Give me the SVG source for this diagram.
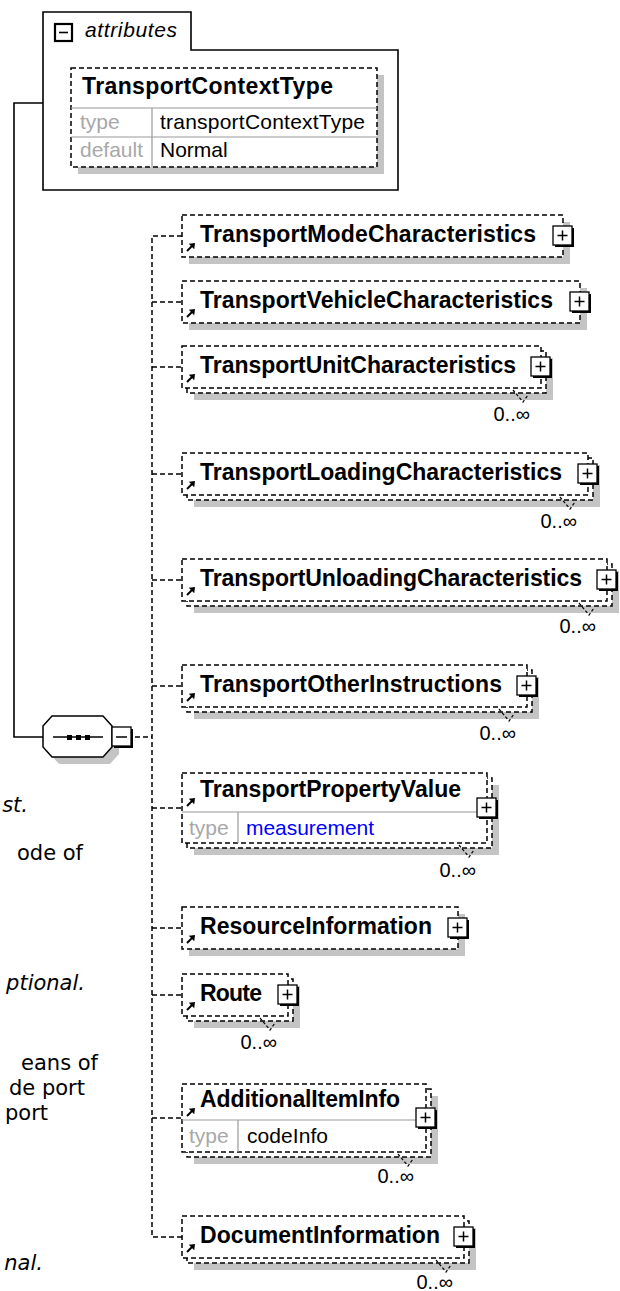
<svg xmlns="http://www.w3.org/2000/svg" width="620" height="1291" viewBox="0 0 620 1291">
<style>
.sol{fill:none;stroke:#000;stroke-width:1.6}
.dash{fill:none;stroke:#000;stroke-width:1.5;stroke-dasharray:5,3}
.box{fill:#fff;stroke:#000;stroke-width:1.5;stroke-dasharray:5,3}
.shd{fill:#c4c4c4}
.sep{fill:none;stroke:#999;stroke-width:1.2}
.name{font-family:"Liberation Sans",Arial,sans-serif;font-weight:bold;font-size:23px;fill:#000}
.reg{font-family:"Liberation Sans",Arial,sans-serif;font-size:21px;fill:#000}
.lbl{fill:#a8a8a8}
.blue{fill:#0000ff}
.occ{font-family:"Liberation Sans",Arial,sans-serif;font-size:20px;fill:#000;text-anchor:end}
.doc{font-family:"DejaVu Sans",Verdana,sans-serif;font-size:21px;fill:#000;text-anchor:end}
.it{font-style:italic}
.tick{fill:none;stroke:#000;stroke-width:1.2;stroke-dasharray:3,2}
</style>
<defs>
<g id="arr"><path d="M0,8 L5,3" stroke="#000" stroke-width="2" fill="none"/><polygon points="8,0 1.8,0.8 7.2,6.2" fill="#000"/></g>
<g id="plus"><rect x="2" y="2" width="19" height="19" fill="#000"/><rect x="0" y="0" width="19" height="19" fill="#fff" stroke="#000" stroke-width="1.3"/><path d="M4.5,9.5 H14.5 M9.5,4.5 V14.5" stroke="#000" stroke-width="1.5"/></g>
</defs>

<g id="connectors">
<path class="sol" d="M43,103 H14 V737 H43"/>
<path class="dash" d="M135,737 H152"/>
<path class="dash" d="M182,236 H152 V1237 H182"/>
<path class="dash" d="M152,302 H182 M152,367 H182 M152,474 H182 M152,580 H182 M152,686 H182 M152,808 H182 M152,928 H182 M152,995 H182 M152,1118 H182"/>
</g>

<g id="attributes">
<path d="M43,190 V12 H191 V50 H398 V190 Z" fill="#fff" stroke="#000" stroke-width="1.6"/>
<rect x="55" y="24" width="17" height="17" fill="#fff" stroke="#000" stroke-width="2.2"/>
<path d="M59,32.5 H68" stroke="#000" stroke-width="1.6"/>
<text class="reg it" x="85" y="37" textLength="92">attributes</text>
<rect class="shd" x="78" y="75" width="306" height="99"/>
<rect class="box" x="71" y="68" width="306" height="99"/>
<path class="sep" d="M71,108 H377 M71,137 H377 M152,108 V167"/>
<text class="name" x="82" y="94" textLength="251">TransportContextType</text>
<text class="reg lbl" x="80" y="129">type</text>
<text class="reg" x="160" y="129" textLength="205">transportContextType</text>
<text class="reg lbl" x="80" y="157">default</text>
<text class="reg" x="160" y="157">Normal</text>
</g>

<g id="sequence">
<polygon points="50,733 59,723 110,723 119,733 119,754 110,764 59,764 50,754" class="shd"/>
<polygon points="43,726 52,716 103,716 112,726 112,747 103,757 52,757 43,747" fill="#fff" stroke="#000" stroke-width="1.5"/>
<path d="M53,737 H103" stroke="#000" stroke-width="1.5"/>
<rect x="67" y="735" width="5" height="5" fill="#000"/>
<rect x="76" y="735" width="5" height="5" fill="#000"/>
<rect x="85" y="735" width="5" height="5" fill="#000"/>
<rect x="114" y="729" width="19" height="19" fill="#000"/>
<rect x="112" y="727" width="19" height="19" fill="#fff" stroke="#000" stroke-width="1.3"/>
<path d="M116,737 H127" stroke="#000" stroke-width="1.5"/>
</g>

<g id="TransportModeCharacteristics">
<rect class="shd" x="189" y="222" width="381" height="42"/>
<rect class="box" x="182" y="215" width="381" height="42"/>
<use href="#arr" x="187" y="243"/>
<text class="name" x="200" y="242" textLength="336">TransportModeCharacteristics</text>
<use href="#plus" x="553" y="226"/>
</g>

<g id="TransportVehicleCharacteristics">
<rect class="shd" x="189" y="288" width="398" height="42"/>
<rect class="box" x="182" y="281" width="398" height="42"/>
<use href="#arr" x="187" y="309"/>
<text class="name" x="200" y="308" textLength="353">TransportVehicleCharacteristics</text>
<use href="#plus" x="570" y="292"/>
</g>

<g id="TransportUnitCharacteristics">
<rect class="shd" x="194" y="358" width="359" height="42"/>
<rect class="box" x="187" y="351" width="359" height="42"/>
<rect class="box" x="182" y="346" width="359" height="42"/>
<use href="#arr" x="187" y="374"/>
<text class="name" x="200" y="373" textLength="316">TransportUnitCharacteristics</text>
<use href="#plus" x="531" y="357"/>
<polyline class="tick" points="513,390 523,402 528,395"/>
<text class="occ" x="530" y="421">0..∞</text>
</g>

<g id="TransportLoadingCharacteristics">
<rect class="shd" x="194" y="465" width="406" height="42"/>
<rect class="box" x="187" y="458" width="406" height="42"/>
<rect class="box" x="182" y="453" width="406" height="42"/>
<use href="#arr" x="187" y="481"/>
<text class="name" x="200" y="480" textLength="362">TransportLoadingCharacteristics</text>
<use href="#plus" x="578" y="464"/>
<polyline class="tick" points="560,497 570,509 575,502"/>
<text class="occ" x="577" y="528">0..∞</text>
</g>

<g id="TransportUnloadingCharacteristics">
<rect class="shd" x="194" y="571" width="425" height="42"/>
<rect class="box" x="187" y="564" width="425" height="42"/>
<rect class="box" x="182" y="559" width="425" height="42"/>
<use href="#arr" x="187" y="587"/>
<text class="name" x="200" y="586" textLength="382">TransportUnloadingCharacteristics</text>
<use href="#plus" x="597" y="570"/>
<polyline class="tick" points="579,603 589,615 594,608"/>
<text class="occ" x="596" y="633">0..∞</text>
</g>

<g id="TransportOtherInstructions">
<rect class="shd" x="194" y="677" width="345" height="42"/>
<rect class="box" x="187" y="670" width="345" height="42"/>
<rect class="box" x="182" y="665" width="345" height="42"/>
<use href="#arr" x="187" y="693"/>
<text class="name" x="200" y="692" textLength="302">TransportOtherInstructions</text>
<use href="#plus" x="517" y="676"/>
<polyline class="tick" points="499,709 509,721 514,714"/>
<text class="occ" x="516" y="740">0..∞</text>
</g>

<g id="TransportPropertyValue">
<rect class="shd" x="194" y="785" width="305" height="70"/>
<rect class="box" x="187" y="778" width="305" height="70"/>
<rect class="box" x="182" y="773" width="305" height="70"/>
<path class="sep" d="M182,812 H487 M238,812 V843"/>
<use href="#arr" x="187" y="798"/>
<text class="name" x="200" y="797" textLength="261">TransportPropertyValue</text>
<text class="reg lbl" x="189" y="835">type</text>
<text class="reg blue" x="246" y="835" textLength="128">measurement</text>
<use href="#plus" x="477" y="798"/>
<polyline class="tick" points="459,845 469,857 474,850"/>
<text class="occ" x="476" y="877">0..∞</text>
</g>

<g id="ResourceInformation">
<rect class="shd" x="189" y="914" width="276" height="42"/>
<rect class="box" x="182" y="907" width="276" height="42"/>
<use href="#arr" x="187" y="935"/>
<text class="name" x="200" y="934" textLength="232">ResourceInformation</text>
<use href="#plus" x="448" y="918"/>
</g>

<g id="Route">
<rect class="shd" x="194" y="986" width="106" height="42"/>
<rect class="box" x="187" y="979" width="106" height="42"/>
<rect class="box" x="182" y="974" width="106" height="42"/>
<use href="#arr" x="187" y="1002"/>
<text class="name" x="200" y="1001" textLength="62">Route</text>
<use href="#plus" x="278" y="985"/>
<polyline class="tick" points="260,1018 270,1030 275,1023"/>
<text class="occ" x="277" y="1049">0..∞</text>
</g>

<g id="AdditionalItemInfo">
<rect class="shd" x="194" y="1096" width="244" height="68"/>
<rect class="box" x="187" y="1089" width="244" height="68"/>
<rect class="box" x="182" y="1084" width="244" height="68"/>
<path class="sep" d="M182,1120 H426 M238,1120 V1152"/>
<use href="#arr" x="187" y="1108"/>
<text class="name" x="200" y="1107" textLength="200">AdditionalItemInfo</text>
<text class="reg lbl" x="189" y="1143">type</text>
<text class="reg" x="247" y="1143" textLength="81">codeInfo</text>
<use href="#plus" x="416" y="1108"/>
<polyline class="tick" points="398,1154 408,1166 413,1159"/>
<text class="occ" x="414" y="1183">0..∞</text>
</g>

<g id="DocumentInformation">
<rect class="shd" x="194" y="1228" width="282" height="42"/>
<rect class="box" x="187" y="1221" width="282" height="42"/>
<rect class="box" x="182" y="1216" width="282" height="42"/>
<use href="#arr" x="187" y="1244"/>
<text class="name" x="200" y="1243" textLength="240">DocumentInformation</text>
<use href="#plus" x="454" y="1227"/>
<polyline class="tick" points="436,1260 446,1272 451,1265"/>
<text class="occ" x="453" y="1289">0..∞</text>
</g>

<g id="doc-text">
<text class="doc it" x="28" y="812">st.</text>
<text class="doc" x="83" y="860">ode of</text>
<text class="doc it" x="85" y="990">ptional.</text>
<text class="doc" x="98" y="1070">eans of</text>
<text class="doc" x="85" y="1095">de port</text>
<text class="doc" x="48" y="1120">port</text>
<text class="doc it" x="43" y="1270">nal.</text>
</g>
</svg>
